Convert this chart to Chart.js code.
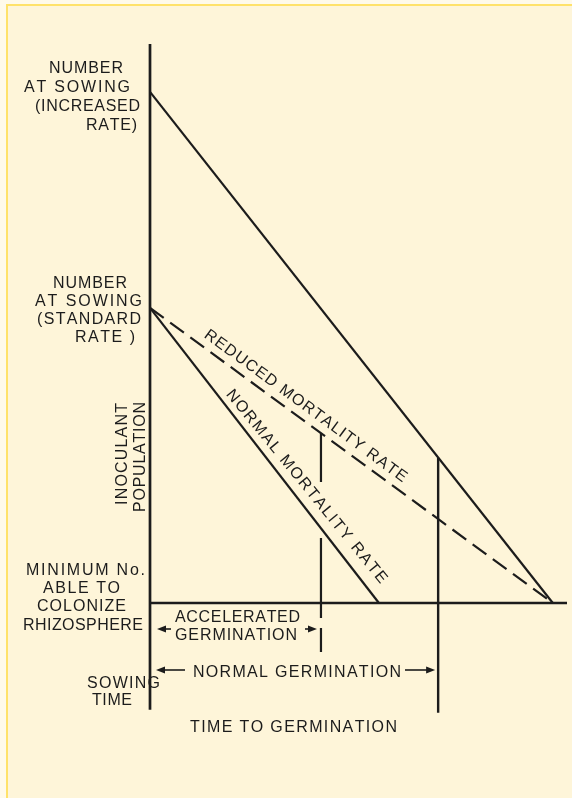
<!DOCTYPE html>
<html>
<head>
<meta charset="utf-8">
<script src="https://cdn.jsdelivr.net/npm/chart.js@4.4.1/dist/chart.umd.min.js"></script>
<style>
  html, body { margin: 0; padding: 0; background: #fffaea; }
  #wrap { position: relative; width: 572px; height: 798px; overflow: hidden; }
  #paper { position: absolute; left: 6px; top: 4px; right: 0; bottom: 0;
           background: #fef5d9; border-top: 2px solid #ffe26a; border-left: 2px solid #ffe26a; }
  canvas { position: absolute; left: 0; top: 0; }
</style>
</head>
<body>
<div id="wrap">
  <div id="paper"></div>
  <canvas id="chart"></canvas>
</div>
<script>
// time to germination on x, inoculant population on y (arbitrary units, 0 = minimum able to colonize)
const increasedRate    = [[0, 8.66], [9.66, 0]];
const normalMortality  = [[0, 5.0],  [5.49, 0]];
const reducedMortality = [[0, 5.0],  [9.66, 0]];
const acceleratedDrop  = [[4.1, 2.88],  [4.1, -0.83]];
const normalDrop       = [[6.91, 2.46], [6.91, -1.86]];
const populationAxis   = [[0, 9.47], [0, -1.81]];
const timeAxis         = [[0, 0], [10, 0]];

const INK = '#1c1c1c';
const FONT = '16px "Liberation Sans", Arial, sans-serif';
const CAP = 11.5;

// [text, left, right, baseline]
const sideLabels = [
  ['NUMBER', 49, 123, 72.7],
  ['AT SOWING', 24, 130, 91.7],
  ['(INCREASED', 35, 140, 111],
  ['RATE)', 86, 137, 130],
  ['NUMBER', 53, 127, 288],
  ['AT SOWING', 35, 142, 305.7],
  ['(STANDARD', 37, 141, 324],
  ['RATE )', 75, 135, 341.7],
  ['MINIMUM No.', 26, 145, 575],
  ['ABLE TO', 43, 120, 593.3],
  ['COLONIZE', 37, 126, 611],
  ['RHIZOSPHERE', 23, 143, 630],
  ['ACCELERATED', 175, 300, 621.7],
  ['GERMINATION', 175, 297, 640],
  ['NORMAL GERMINATION', 193, 401, 677],
  ['SOWING', 87, 160, 688],
  ['TIME', 92, 132, 705],
  ['TIME TO GERMINATION', 190, 397, 732]
];

const pts = a => a.map(([x, y]) => ({ x, y }));

function fitText(ctx, text, left, base, width) {
  const chars = [...text];
  const w = chars.map(c => ctx.measureText(c).width);
  const sum = w.reduce((a, b) => a + b, 0);
  const ls = chars.length > 1 ? (width - sum) / (chars.length - 1) : 0;
  let cx = left;
  chars.forEach((c, i) => { ctx.fillText(c, cx, base); cx += w[i] + ls; });
}

function centeredText(ctx, text, cx, cy, angle, len) {
  ctx.save();
  ctx.translate(cx, cy);
  ctx.rotate(angle);
  fitText(ctx, text, -len / 2, CAP / 2, len);
  ctx.restore();
}

function lineLabel(ctx, text, p0, p1, s, off, len, dAngle) {
  const ang = Math.atan2(p1.y - p0.y, p1.x - p0.x);
  const ux = Math.cos(ang), uy = Math.sin(ang);
  const cx = p0.x + s * ux + off * uy;
  const cy = p0.y + s * uy - off * ux;
  centeredText(ctx, text, cx, cy, ang + dAngle, len);
}

function arrow(ctx, tail, tip, yy) {
  const dir = Math.sign(tip - tail);
  ctx.beginPath();
  ctx.moveTo(tail, yy);
  ctx.lineTo(tip - dir * 6, yy);
  ctx.stroke();
  ctx.beginPath();
  ctx.moveTo(tip, yy);
  ctx.lineTo(tip - dir * 9, yy - 3.5);
  ctx.lineTo(tip - dir * 9, yy + 3.5);
  ctx.closePath();
  ctx.fill();
}

const labelPlugin = {
  id: 'labels',
  afterDatasetsDraw(chart) {
    const { ctx, scales: { x, y } } = chart;
    const px = p => ({ x: x.getPixelForValue(p[0]), y: y.getPixelForValue(p[1]) });
    ctx.save();
    ctx.fillStyle = INK;
    ctx.strokeStyle = INK;
    ctx.font = FONT;
    ctx.textBaseline = 'alphabetic';

    sideLabels.forEach(([t, l, r, b]) => fitText(ctx, t, l, b, r - l));

    centeredText(ctx, 'INOCULANT', 121, 454, -Math.PI / 2, 102);
    centeredText(ctx, 'POPULATION', 139, 457, -Math.PI / 2, 110);

    lineLabel(ctx, 'REDUCED MORTALITY RATE',
      px(reducedMortality[0]), px(reducedMortality[1]), 183.5, 14, 247, 0);
    lineLabel(ctx, 'NORMAL MORTALITY RATE',
      px(normalMortality[0]), px(normalMortality[1]), 237, 15.4, 245, -1.4 * Math.PI / 180);

    ctx.lineWidth = 1.6;
    const x0 = x.getPixelForValue(0);
    const xa = x.getPixelForValue(acceleratedDrop[0][0]);
    const xn = x.getPixelForValue(normalDrop[0][0]);
    arrow(ctx, 171, x0 + 7, 629);
    arrow(ctx, 305, xa - 4, 629);
    arrow(ctx, 185, x0 + 6, 670);
    arrow(ctx, 405, xn - 3, 670);
    ctx.restore();
  }
};

const line = (data, width, dash) => ({
  data: pts(data),
  borderColor: INK,
  borderWidth: width,
  borderDash: dash || [],
  pointRadius: 0,
  showLine: true,
  fill: false,
  tension: 0,
  clip: false
});

new Chart(document.getElementById('chart'), {
  type: 'scatter',
  data: {
    datasets: [
      line(populationAxis, 2.7),
      line(timeAxis, 2.7),
      line(increasedRate, 2.2),
      line(normalMortality, 2.2),
      line(reducedMortality, 2.2, [17, 8]),
      line(acceleratedDrop, 2.2, [49, 56, 80, 10, 26, 50]),
      line(normalDrop, 2.4)
    ]
  },
  options: {
    responsive: true,
    maintainAspectRatio: false,
    animation: false,
    events: [],
    layout: { padding: { left: 150, right: 5, top: 44, bottom: 84 } },
    plugins: { legend: { display: false }, tooltip: { enabled: false } },
    scales: {
      x: { type: 'linear', display: false, min: 0, max: 10 },
      y: { type: 'linear', display: false, min: -1.88, max: 9.47 }
    }
  },
  plugins: [labelPlugin]
});
</script>
</body>
</html>
